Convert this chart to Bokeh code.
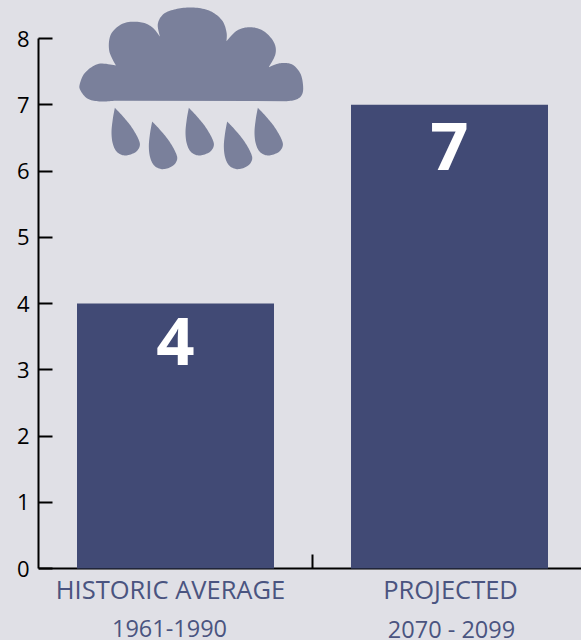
from bokeh.plotting import figure
from bokeh.embed import file_html
from bokeh.resources import INLINE
from bokeh.models import Range1d, LinearAxis, FixedTicker, ColumnDataSource
from bokeh.core.properties import value

categories = ["HISTORIC AVERAGE", "PROJECTED"]
periods = ["1961-1990", "2070 - 2099"]
values = [4, 7]
y_ticks = [0, 1, 2, 3, 4, 5, 6, 7, 8]

BG = "#e0e0e6"; BAR = "#414a75"; ICON = "#7a809b"; LABEL = "#4a5480"
FONT = "Open Sans"
W, H = 581, 640
L, B = 38, 72
UNIT_X = 274.0; UNIT_Y = 66.25
value_offsets = [38, 42]
category_shift = [-5, 1]
period_shift = [-6, 2]

# decorative rain-cloud icon outline, in icon units (3 units per pixel)
cloud_lobes = [
    [(340,301),(300,303),(262,295),(240,270),(238,250),(255,215),(295,190),(346,195)],
    [(346,195),(326,150),(332,100),(370,68),(420,65),(455,80),(478,108)],
    [(478,108),(472,70),(490,40),(530,25),(580,21),(630,32),(665,60),(678,95),(678,122)],
    [(678,122),(710,90),(750,80),(790,92),(820,125),(825,160),(805,200)],
    [(805,200),(840,188),(875,192),(900,220),(908,260),(903,285),(885,298),(860,302)],
]
drop_shape = [(343,322),(365,345),(392,378),(412,412),(418,435),(405,455),(375,465),(350,455),(337,430),(333,395),(337,355),(343,322)]
drop_shift = [(0,0),(112,41),(222,0),(337,41),(429,0)]

def smooth(pts, n=10):
    out = []
    for i in range(len(pts)-1):
        p0 = pts[max(i-1,0)]; p1 = pts[i]; p2 = pts[i+1]; p3 = pts[min(i+2,len(pts)-1)]
        for k in range(n):
            t = k/n
            out.append(tuple(0.5*(2*p1[a]+(p2[a]-p0[a])*t+(2*p0[a]-5*p1[a]+4*p2[a]-p3[a])*t*t+(3*p1[a]-p0[a]-3*p2[a]+p3[a])*t**3) for a in (0,1)))
    out.append(pts[-1])
    return out

p = figure(width=W, height=H, toolbar_location=None, output_backend="svg",
           x_range=Range1d(0, (W-L)/UNIT_X), y_range=Range1d(-B/UNIT_Y, (H-B)/UNIT_Y),
           min_border_left=L, min_border_right=0, min_border_top=0, min_border_bottom=0,
           background_fill_color=BG, border_fill_color=BG, outline_line_color=None,
           x_axis_type=None, y_axis_type=None)
p.grid.visible = False
p.extra_x_ranges["icon"] = Range1d(L*3, W*3)
p.extra_y_ranges["icon"] = Range1d(H*3, 0)

xpos = [i + 0.5 for i in range(len(values))]
p.vbar(x=xpos, top=values, width=197/UNIT_X, bottom=0, color=BAR, line_color=None, level="annotation")

src = ColumnDataSource(dict(x=xpos, y=values, t=[str(v) for v in values], o=value_offsets))
p.text("x", "y", text="t", source=src, text_color="white", text_align="center",
       text_baseline="alphabetic", y_offset="o", text_font=value(FONT),
       text_font_style="bold", text_font_size="67px", level="annotation")

cloud = []
for lobe in cloud_lobes:
    cloud += smooth(lobe)
shapes = [cloud] + [[(x+dx, y+dy) for x, y in smooth(drop_shape)] for dx, dy in drop_shift]
p.patches([[a for a, b in s] for s in shapes], [[b for a, b in s] for s in shapes],
          x_range_name="icon", y_range_name="icon", color=ICON, line_color=None)

yaxis = LinearAxis(ticker=FixedTicker(ticks=y_ticks), bounds=(0, 8))
yaxis.axis_line_color = "black"; yaxis.axis_line_width = 2
yaxis.major_tick_line_color = "black"; yaxis.major_tick_line_width = 2
yaxis.major_tick_in = 14; yaxis.major_tick_out = 0; yaxis.minor_tick_line_color = None
yaxis.major_label_text_font = FONT; yaxis.major_label_text_font_size = "22px"
yaxis.major_label_text_color = "black"; yaxis.major_label_standoff = 9
p.add_layout(yaxis, "left")

xaxis = LinearAxis(ticker=FixedTicker(ticks=[1]), fixed_location=0,
                   major_label_overrides={1: ""})
xaxis.axis_line_color = "black"; xaxis.axis_line_width = 2
xaxis.major_tick_line_color = "black"; xaxis.major_tick_line_width = 2
xaxis.major_tick_in = 14; xaxis.major_tick_out = 0; xaxis.minor_tick_line_color = None
xaxis.major_label_standoff = 0
p.add_layout(xaxis, "below")

for labels, shift, off, size in ((categories, category_shift, 20, "25.5px"), (periods, period_shift, 60, "23.5px")):
    s = ColumnDataSource(dict(x=xpos, y=[0]*len(xpos), t=labels, dx=shift))
    p.text("x", "y", text="t", source=s, x_offset="dx", y_offset=off, text_font=value(FONT), text_font_size=size,
           text_color=LABEL, text_align="center", text_baseline="middle")

html = file_html(p, INLINE)
html = html.replace("<head>", "<head><style>html,body{margin:0;padding:0;overflow:hidden;background:#e0e0e6}</style>", 1)
open("out.html", "w").write(html)
